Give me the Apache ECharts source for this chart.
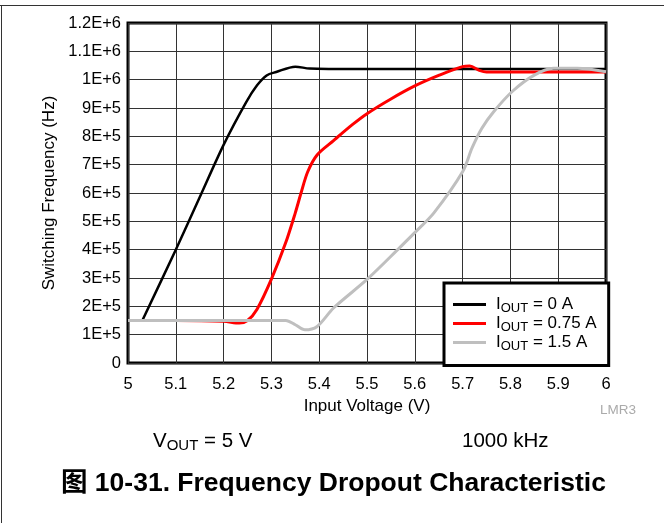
<!DOCTYPE html>
<html><head><meta charset="utf-8">
<script src="https://cdn.jsdelivr.net/npm/echarts@6/dist/echarts.min.js"></script>
<style>html,body{margin:0;padding:0;background:#fff}#c{width:664px;height:523px}</style>
</head><body><div id="c"></div>
<script>
var xTickLabels = ['5','5.1','5.2','5.3','5.4','5.5','5.6','5.7','5.8','5.9','6'];
var yTickLabels = ['0','1E+5','2E+5','3E+5','4E+5','5E+5','6E+5','7E+5','8E+5','9E+5','1E+6','1.1E+6','1.2E+6'];
var seriesNames = ['IOUT = 0 A','IOUT = 0.75 A','IOUT = 1.5 A'];
var iout0 = [[5.03,1.5e5],[5.1,4.0e5],[5.15,5.85e5],[5.2,7.7e5],[5.247,9.2e5],[5.27,9.8e5],[5.29,1.015e6],[5.31,1.027e6],[5.35,1.046e6],[5.38,1.039e6],[5.42,1.038e6],[5.6,1.038e6],[5.8,1.038e6],[6.0,1.038e6]];
var iout075 = [[5.0,1.5e5],[5.1,1.5e5],[5.2,1.47e5],[5.233,1.41e5],[5.25,1.5e5],[5.27,1.9e5],[5.3,2.96e5],[5.33,4.25e5],[5.35,5.3e5],[5.362,6.0e5],[5.376,6.75e5],[5.396,7.35e5],[5.43,7.85e5],[5.47,8.42e5],[5.5,8.8e5],[5.55,9.32e5],[5.6,9.78e5],[5.65,1.015e6],[5.7,1.046e6],[5.715,1.048e6],[5.735,1.033e6],[5.75,1.027e6],[5.85,1.027e6],[6.0,1.027e6]];
var iout15 = [[5.0,1.5e5],[5.2,1.5e5],[5.33,1.5e5],[5.35,1.35e5],[5.37,1.17e5],[5.395,1.28e5],[5.43,1.94e5],[5.5,2.95e5],[5.57,4.1e5],[5.6,4.6e5],[5.64,5.3e5],[5.7,6.75e5],[5.72,7.6e5],[5.74,8.28e5],[5.765,8.87e5],[5.805,9.6e5],[5.85,1.016e6],[5.89,1.04e6],[5.94,1.04e6],[6.0,1.028e6]];

var FF = '"Liberation Sans", Arial, "Noto Sans CJK SC", sans-serif';
var chart = echarts.init(document.getElementById('c'), null, {renderer:'canvas'});
chart.setOption({
  animation:false,
  backgroundColor:'#fff',
  textStyle:{fontFamily:FF},
  grid:{left:128, top:23, right:58, bottom:160, show:true, borderColor:'#000', borderWidth:3, backgroundColor:'transparent'},
  xAxis:{type:'value', min:5, max:6, interval:0.1,
    axisLine:{show:false}, axisTick:{show:false},
    splitLine:{show:true, lineStyle:{color:'#333', width:1}},
    axisLabel:{margin:13, color:'#000', fontSize:16.5, fontFamily:FF,
      formatter:function(v){return xTickLabels[Math.round((v-5)*10)];}},
    name:'Input Voltage (V)', nameLocation:'middle', nameGap:32,
    nameTextStyle:{color:'#000', fontSize:17, fontFamily:FF}},
  yAxis:{type:'value', min:0, max:1.2e6, interval:1e5,
    axisLine:{show:false}, axisTick:{show:false},
    splitLine:{show:true, lineStyle:{color:'#333', width:1}},
    axisLabel:{margin:7, color:'#000', fontSize:16.5, fontFamily:FF,
      formatter:function(v){return yTickLabels[Math.round(v/1e5)];}},
    name:'Switching Frequency (Hz)', nameLocation:'middle', nameGap:68,
    nameTextStyle:{color:'#000', fontSize:17, fontFamily:FF}},
  legend:{orient:'vertical', left:444, top:283, itemWidth:33, itemHeight:3, itemGap:0.5,
    icon:'rect', backgroundColor:'#fff', borderColor:'#000', borderWidth:3,
    padding:[13,12,13,9],
    data:seriesNames,
    formatter:function(n){return '{i|I}{s|OUT}{a|'+n.slice(4)+'}';},
    textStyle:{color:'#000', fontFamily:FF, rich:{
      i:{fontSize:17, lineHeight:20, padding:[0,0,0,5], fontFamily:FF},
      a:{fontSize:17, lineHeight:20, fontFamily:FF},
      s:{fontSize:13, lineHeight:11, verticalAlign:'bottom', fontFamily:FF}}}},
  title:[
    {text:'{a|V}{s|OUT}{a| = 5 V}', left:153, top:429, padding:0,
      textStyle:{fontWeight:'normal', rich:{a:{fontSize:20.5, lineHeight:24, color:'#000', fontWeight:'normal', fontFamily:FF},
        s:{fontSize:15, lineHeight:13, verticalAlign:'bottom', color:'#000', fontWeight:'normal', fontFamily:FF}}}},
    {text:'1000 kHz', left:462, top:429, padding:0,
      textStyle:{fontSize:20.5, fontWeight:'normal', color:'#000', fontFamily:FF, lineHeight:24}},
    {text:'图 10-31. Frequency Dropout Characteristic', left:61, top:470, padding:0,
      textStyle:{fontSize:26.5, fontWeight:'bold', color:'#000', fontFamily:FF, lineHeight:28}},
    {text:'LMR3', left:600, top:404, padding:0,
      textStyle:{fontSize:13.5, fontWeight:'normal', color:'#aaa', fontFamily:FF}}
  ],
  graphic:[
    {type:'line', shape:{x1:0,y1:5.5,x2:664,y2:5.5}, style:{stroke:'#333', lineWidth:1}, silent:true},
    {type:'line', shape:{x1:1.5,y1:5,x2:1.5,y2:523}, style:{stroke:'#333', lineWidth:1}, silent:true}
  ],
  series:[
    {name:seriesNames[0], type:'line', data:iout0, showSymbol:false, smooth:0.3, color:'#000', lineStyle:{color:'#000', width:2.5}, z:2},
    {name:seriesNames[1], type:'line', data:iout075, showSymbol:false, smooth:0.3, color:'#ff0000', lineStyle:{color:'#ff0000', width:3}, z:3},
    {name:seriesNames[2], type:'line', data:iout15, showSymbol:false, smooth:0.3, color:'#bfbfbf', lineStyle:{color:'#bfbfbf', width:3}, z:4}
  ]
});
</script></body></html>
